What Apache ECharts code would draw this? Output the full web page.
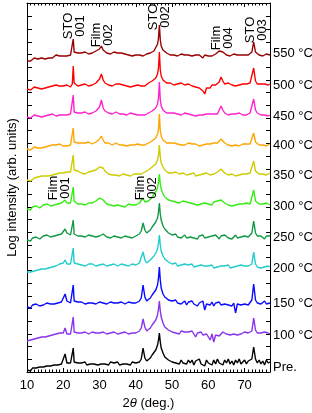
<!DOCTYPE html>
<html><head><meta charset="utf-8">
<script src="https://cdn.jsdelivr.net/npm/echarts@6/dist/echarts.min.js"></script>
<style>html,body{margin:0;padding:0;background:#fff}#c{width:312px;height:413px}</style>
</head><body><div id="c"></div>
<script>
// 2θ scan positions (deg.)
const twoTheta = [
10,10.5,11,11.5,12,12.5,13,13.5,14,14.5,
15,15.5,16,16.5,17,17.5,18,18.5,19,19.5,
20,20.5,21,21.5,22,22.5,22.75,23,23.5,24,24.5,
25,25.5,26,26.5,27,27.5,28,28.5,29,29.5,
30,30.5,31,31.5,32,32.5,33,33.5,34,34.5,
35,35.5,36,36.5,37,37.5,38,38.5,39,39.5,
40,40.5,41,41.5,42,42.5,43,43.5,44,44.5,
45,45.5,46,46.25,46.5,46.75,47,47.5,48,48.5,49,49.5,
50,50.5,51,51.5,52,52.5,53,53.5,54,54.5,
55,55.5,56,56.5,57,57.5,58,58.5,59,59.5,
60,60.5,61,61.5,62,62.5,63,63.5,64,64.5,
65,65.5,66,66.5,67,67.5,68,68.5,69,69.5,
70,70.5,71,71.5,72,72.5,73,73.5,74,74.5,
75,75.5,76,76.5,77];

const tempLabels = ['550 °C','500 °C','450 °C','400 °C','350 °C','300 °C','250 °C','200 °C','150 °C','100 °C','Pre.'];

// log intensity + stacking offset (arb. units)
const i550 = [
311,313,311,312,314,312,313,312,314,313,
313,315,314,316,314,315,317,315,316,317,
316,317,316,318,317,319,333,320,318,319,318,
319,318,320,319,318,320,319,320,321,322,
323,326,322,320,319,320,318,319,320,318,
319,318,319,317,318,319,317,318,316,318,
317,316,317,316,316,317,318,318,319,320,
321,323,328,334,347,332,326,322,320,319,318,317,
318,317,318,316,317,318,316,317,318,317,
317,316,318,317,315,317,316,314,317,316,
316,317,316,317,318,319,321,323,320,318,
317,318,316,317,318,316,317,318,317,316,
317,318,317,318,320,330,320,318,317,318,
316,317,318,316,317];
const i500 = [
283,284,282,284,285,283,284,285,283,285,
284,286,285,284,286,285,287,285,286,285,
286,285,287,286,285,288,306,289,287,286,288,
287,286,288,287,286,288,287,288,289,291,
293,298,292,289,288,287,288,286,287,288,
287,288,286,287,288,286,287,285,287,286,
286,287,285,286,287,286,288,289,290,291,
292,294,298,304,320,302,296,292,290,289,288,289,
288,287,289,288,287,289,288,287,286,288,
287,286,288,285,287,284,286,281,278,284,
286,284,287,285,287,288,290,295,291,288,
287,289,288,287,288,286,288,287,289,288,
287,288,287,289,291,304,291,288,287,288,
287,288,286,287,288];
const i450 = [
255,256,254,256,257,255,256,257,255,257,
256,258,257,256,258,257,256,258,257,258,
257,258,257,259,258,259,277,260,258,259,258,
259,258,260,259,258,260,259,260,261,263,
265,272,264,261,260,259,260,258,259,260,
259,258,260,258,259,257,258,259,257,258,
258,257,258,257,258,257,258,259,260,261,
262,264,268,274,290,272,266,262,260,259,258,259,
258,259,257,258,259,257,258,259,257,258,
259,257,258,256,258,257,259,257,256,258,
257,258,256,258,259,258,260,266,262,259,
258,257,259,258,257,258,257,259,258,257,
258,257,258,259,261,273,262,259,258,257,
258,257,258,256,257];
const i400 = [
223,224,222,224,225,223,224,225,224,225,
225,227,226,225,227,226,227,226,228,227,
226,227,226,228,227,229,244,230,228,229,228,
229,228,229,228,230,229,228,229,230,232,
233,236,232,229,228,229,228,227,228,229,
228,227,228,227,228,226,228,227,226,227,
227,228,226,227,228,227,228,229,230,231,
232,234,238,243,258,241,236,232,230,229,228,229,
228,229,227,228,229,227,228,227,228,229,
227,228,226,228,227,226,228,227,226,228,
227,228,227,229,228,229,231,233,231,229,
228,227,228,226,228,227,228,226,227,228,
227,228,227,228,230,239,230,228,227,228,
227,228,226,227,228];
const i350 = [
192,193,191,193,194,193,195,194,196,195,
196,197,196,198,197,199,198,197,199,198,
199,198,200,199,200,201,217,202,200,201,200,
199,200,198,199,200,199,201,200,202,204,
205,207,204,201,199,198,199,197,198,197,
198,196,197,198,196,197,198,196,197,198,
197,198,197,198,199,200,201,202,204,205,
206,208,212,217,227,215,209,205,202,200,199,200,
199,198,200,199,198,197,199,198,197,199,
198,197,199,196,198,197,195,198,197,199,
198,197,199,198,199,200,202,203,201,199,
198,197,196,198,197,196,198,197,196,198,
197,198,197,199,201,211,201,199,198,199,
198,199,197,198,199];
const i300 = [
163,164,162,165,164,166,165,164,166,167,
166,168,167,166,168,167,169,168,167,169,
170,172,169,168,169,170,185,171,169,168,169,
168,169,167,168,169,168,169,170,171,173,
174,175,172,170,168,169,167,168,166,167,
167,168,166,167,165,167,168,166,167,168,
167,168,169,171,174,170,169,171,173,175,
177,180,184,190,198,188,183,178,175,173,172,173,
171,172,170,171,169,170,171,169,170,168,
169,170,168,169,167,169,168,166,169,167,
168,169,167,170,169,171,170,172,170,169,
168,167,169,166,168,167,169,168,167,168,
168,169,167,168,170,182,171,169,168,169,
168,167,169,168,167];
const i250 = [
132,133,131,134,133,135,134,133,135,136,
135,137,136,135,137,136,138,137,139,138,
140,143,139,138,137,139,152,138,137,136,137,
136,137,135,136,137,135,136,137,135,137,
136,137,138,136,135,136,134,135,136,134,
135,136,134,135,136,134,135,136,134,135,
136,137,138,141,149,142,139,140,142,145,
147,150,154,160,169,158,152,146,143,141,139,138,
137,136,138,135,137,134,136,137,134,136,
135,137,134,136,133,136,135,137,134,136,
135,133,136,134,137,135,133,136,134,137,
135,134,136,133,135,137,134,136,135,134,
136,134,135,137,139,151,139,136,134,136,
135,133,136,134,136];
const i200 = [
100,101,100,102,101,103,102,104,103,104,
103,105,104,106,105,107,106,107,108,107,
109,112,108,107,108,109,124,109,107,108,106,
107,108,106,107,108,106,108,107,106,108,
107,106,108,107,106,108,107,106,108,107,
106,107,108,106,107,108,106,107,108,106,
107,108,109,111,120,112,109,110,112,114,
116,119,123,129,137,127,121,116,113,111,110,109,
108,107,109,106,108,107,105,108,106,107,
106,108,105,107,106,104,107,105,106,104,
106,105,107,104,106,105,107,106,104,106,
105,107,104,106,105,103,106,105,107,105,
106,104,106,105,108,120,108,105,106,104,
106,105,104,106,105];
const i150 = [
65,66,64,67,66,68,67,66,68,67,
68,69,67,68,69,68,70,69,68,70,
72,78,71,70,69,71,87,71,69,70,69,
70,69,68,70,69,68,69,70,68,69,
70,68,69,70,68,69,70,68,69,68,
69,68,70,69,68,69,70,68,69,70,
69,70,71,74,87,75,71,72,74,77,
79,82,87,94,105,92,84,78,75,73,72,71,
71,70,72,69,71,68,70,71,67,70,
69,71,68,70,66,69,67,71,62,68,
69,67,70,66,69,68,70,67,69,68,
70,67,69,66,69,59,68,70,67,69,
68,70,67,69,72,88,72,69,70,68,
69,71,68,70,69];
const i100 = [
31,33,32,34,33,35,34,36,35,36,
35,37,36,38,37,36,38,37,39,38,
39,44,38,37,38,40,55,40,38,39,38,
39,38,40,39,38,39,40,38,39,40,
39,38,40,39,38,40,39,38,40,39,
38,40,39,38,40,39,38,40,39,38,
39,40,41,44,53,45,41,42,44,47,
49,52,57,63,71,61,55,49,45,43,42,41,
40,41,39,40,38,41,39,40,38,40,
39,41,38,35,39,38,40,37,39,38,
36,32,38,30,37,39,36,38,40,39,
38,40,37,39,38,40,37,39,38,39,
40,38,39,38,41,54,42,39,38,39,
38,40,38,39,38];
const iPre = [
2,3,1,4,2,4,3,5,3,5,
4,6,4,6,5,7,5,7,6,8,
9,18,9,8,9,11,24,10,8,9,7,
9,8,10,7,9,8,10,8,9,7,
9,8,10,8,9,7,10,8,9,8,
10,7,9,8,10,8,9,7,10,8,
9,8,10,13,24,14,11,12,14,17,
19,22,27,32,39,30,24,19,15,13,12,11,
10,12,9,11,8,12,9,11,8,12,
9,12,7,11,9,13,8,10,6,12,
9,11,7,12,8,13,9,11,7,12,
9,13,8,11,7,12,9,13,8,10,
12,8,11,9,13,25,13,9,12,8,
11,7,12,9,10];

const curves = [i550,i500,i450,i400,i350,i300,i250,i200,i150,i100,iPre];
const colors = ['#990000','#ff0000','#ff22cc','#ffa500','#cccc00','#33ee11','#119944','#22cccc','#0a0aff','#8833ee','#000000'];
const labelShift = [-2,1,1,1,2,1,1,1,0,1,5];

const FONT = '"Liberation Sans", Arial, sans-serif';
const chart = echarts.init(document.getElementById('c'));

function xAx(pos, interval, len, major) {
  return {
    type:'value', position:pos, min:10, max:77, interval:interval,
    splitLine:{show:false},
    axisLine:{show:major, onZero:false, lineStyle:{color:'#000', width:1}},
    axisTick:{show:true, inside:true, length:len, lineStyle:{color:'#000', width:1}},
    axisLabel:{show:false}
  };
}
const xMain = xAx('bottom', 10, 4, true);
xMain.axisLabel = {show:true, color:'#000', fontSize:13, fontFamily:FONT, margin:7, showMaxLabel:false};
xMain.name = '{r|2}{i|θ}{r| (deg.)}';
xMain.nameLocation = 'middle';
xMain.nameGap = 23;
xMain.nameTextStyle = {color:'#000', fontSize:13, fontFamily:FONT,
  rich:{r:{color:'#000', fontSize:13, fontFamily:FONT}, i:{color:'#000', fontSize:13, fontFamily:FONT, fontStyle:'italic'}}};

function yAx(pos, len) {
  return {
    type:'value', position:pos, min:0, max:369, interval:12.7,
    splitLine:{show:false},
    axisLine:{show:true, onZero:false, lineStyle:{color:'#000', width:1}},
    axisTick:{show:true, inside:true, length:len, lineStyle:{color:'#000', width:1}},
    axisLabel:{show:false}
  };
}
const yMain = yAx('left', 5);
yMain.name = 'Log intensity (arb. units)';
yMain.nameLocation = 'middle';
yMain.nameGap = 8;
yMain.nameTextStyle = {color:'#000', fontSize:13, fontFamily:FONT};

const series = curves.map((vals, i) => ({
  name: tempLabels[i], type:'line', xAxisIndex:0, yAxisIndex:0,
  data: twoTheta.map((a, j) => [a, vals[j]]),
  showSymbol:false, symbol:'none', silent:true, animation:false,
  lineStyle:{width:1.4, color:colors[i]}, itemStyle:{color:colors[i]},
  endLabel:{show:true, formatter: p => p.seriesName, color:'#000', fontSize:13, fontFamily:FONT, distance:3, offset:[0, labelShift[i]]}
}));

chart.setOption({
  animation:false,
  backgroundColor:'#fff',
  grid:{left:27, right:42, top:3, bottom:41, containLabel:false, outerBoundsMode:'none'},
  xAxis:[xMain, xAx('bottom', 1, 2.5, false), xAx('top', 10, 4, true), xAx('top', 1, 2.5, false)],
  yAxis:[yMain, yAx('right', 4)],
  series: series
});

// peak annotations: [text, anchor 2θ, anchor level]
const peakNotes = [
  ['STO\n001', 23.0, 346],
  ['Film\n002', 30.86, 337],
  ['STO\n002', 46.46, 355],
  ['Film\n004', 63.87, 334],
  ['STO\n003', 73.26, 342],
  ['Film\n001', 18.84, 184],
  ['Film\n002', 42.87, 184]
];
chart.setOption({graphic: peakNotes.map(n => {
  const p = chart.convertToPixel({xAxisIndex:0, yAxisIndex:0}, [n[1], n[2]]);
  return {type:'text', x:p[0], y:p[1], rotation:Math.PI/2, silent:true, z:100,
    style:{text:n[0], font:'13px ' + FONT, fill:'#000', textAlign:'center', textVerticalAlign:'middle', align:'center', verticalAlign:'middle', lineHeight:12}};
})});
</script></body></html>
